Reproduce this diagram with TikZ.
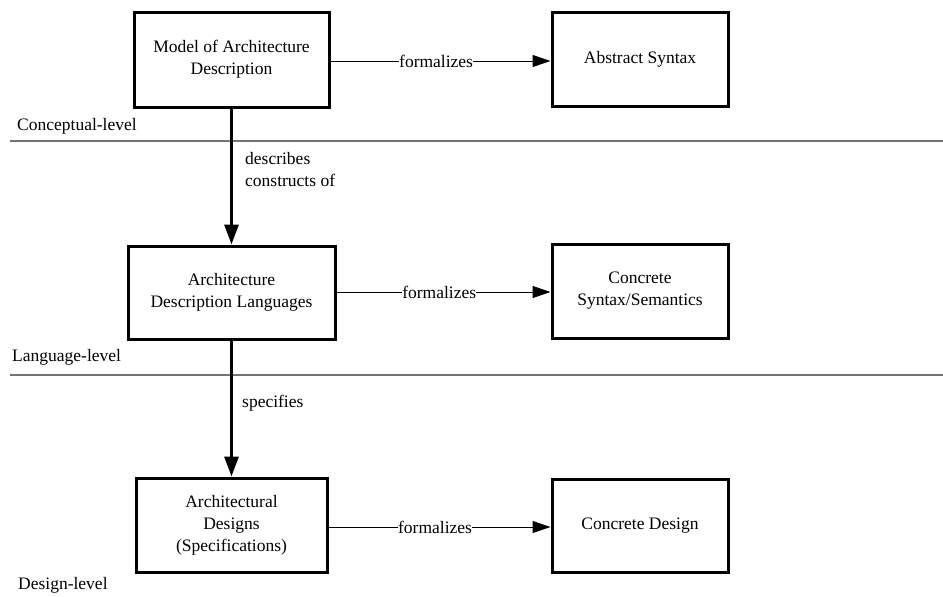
\documentclass[tikz,border=0pt]{standalone}
\usepackage{fontspec}
\setmainfont{Liberation Serif}
\usetikzlibrary{arrows.meta}
\begin{document}
\begin{tikzpicture}[x=1pt,y=-1pt,
  every node/.style={font=\rmfamily\fontsize{17.5}{22}\selectfont},
  block/.style={draw, line width=3pt, align=center, inner sep=0pt},
  levelline/.style={draw=black!55, line width=1.2pt},
  levellabel/.style={anchor=west, inner sep=0pt},
  relates/.style={line width=3pt, -{Triangle[length=20pt,width=14pt]}},
  formal/.style={line width=1pt, -{Triangle[length=18pt,width=12pt]}},
  flabel/.style={fill=white, inner xsep=0pt, inner ysep=2pt, pos=0.48}]
\useasboundingbox (0,0) rectangle (943,597);

% level separators and labels
\coordinate (s1a) at (10,141); \coordinate (s1b) at (943,141);
\coordinate (s2a) at (10,375); \coordinate (s2b) at (943,375);
\draw[levelline] (s1a) -- (s1b);
\draw[levelline] (s2a) -- (s2b);
\node[levellabel] (lc) at (17,126) {Conceptual-level};
\node[levellabel] (ll) at (12,357) {Language-level};
\node[levellabel] (ld) at (18,585) {Design-level};

% left column
\node[block, minimum width=195pt, minimum height=95pt] (m) at (231.5,59.5)
  {Model of Architecture\\Description};
\node[block, minimum width=207pt, minimum height=93pt] (adl) at (231.5,292.5)
  {Architecture\\Description Languages};
\node[block, minimum width=191pt, minimum height=94pt] (ad) at (231.5,525)
  {Architectural\\Designs\\(Specifications)};

% right column
\node[block, minimum width=176pt, minimum height=94pt] (as) at (640,59)
  {Abstract Syntax};
\node[block, minimum width=176pt, minimum height=94pt] (cs) at (640,291)
  {Concrete\\Syntax/Semantics};
\node[block, minimum width=176pt, minimum height=93pt] (cd) at (640,525.5)
  {Concrete Design};

% vertical relations
\draw[relates] (m) -- (adl);
\draw[relates] (adl) -- (ad);
\node[anchor=west, align=left, inner sep=0pt] (lb1) at (245,170)
  {describes\\constructs of};
\node[anchor=west, inner sep=0pt] (lb2) at (242,403) {specifies};

% formalizes relations
\draw[formal] (m.east |- 0,61) -- (as.west |- 0,61)
  node[flabel] {formalizes\hspace{8pt}};
\draw[formal] (adl.east |- 0,292) -- (cs.west |- 0,292)
  node[flabel] {formalizes\hspace{8pt}};
\draw[formal] (ad.east |- 0,527) -- (cd.west |- 0,527)
  node[flabel] {formalizes\hspace{8pt}};
\end{tikzpicture}
\end{document}
